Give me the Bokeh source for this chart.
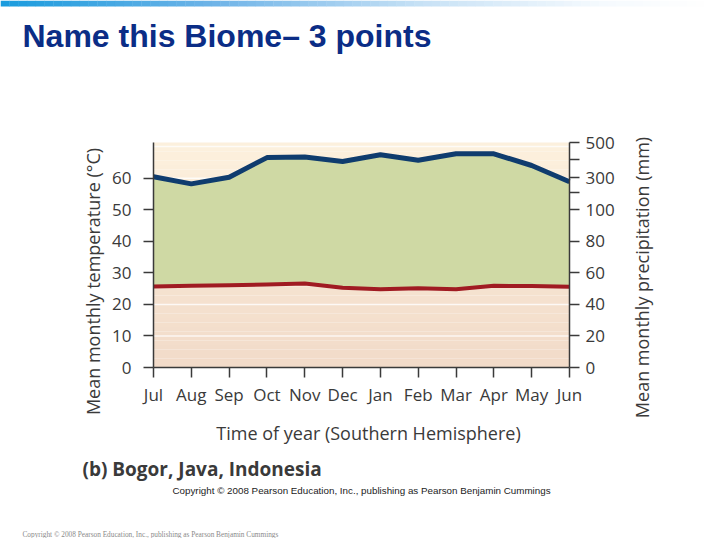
import numpy as np
from bokeh.plotting import figure
from bokeh.models import Range1d, LinearAxis, FixedTicker, Label
from bokeh.embed import file_html
from bokeh.resources import INLINE

# ---------------- data ----------------
months = ["Jul", "Aug", "Sep", "Oct", "Nov", "Dec", "Jan", "Feb", "Mar", "Apr", "May", "Jun"]
temperature_c = [25.7, 25.9, 26.1, 26.3, 26.6, 25.3, 24.8, 25.1, 24.8, 25.9, 25.8, 25.6]
precip_mm = [304, 259, 302, 413, 416, 391, 429, 398, 435, 435, 368, 273]

temp_ticks = [0, 10, 20, 30, 40, 50, 60]
precip_tick_mm = [0, 20, 40, 60, 80, 100, 200, 300, 400, 500]
precip_tick_labels = ["0", "20", "40", "60", "80", "100", "", "300", "", "500"]
# position of each precipitation tick on the temperature scale (axis is broken above 100 mm)
precip_tick_pos = [0, 10, 20, 30, 40, 50, 55.3, 60.2, 65.8, 71.3]

Y_MAX = 71.3
TXT = "#3a3a3a"
FONT = "Open Sans"

# page geometry (pixels) of the chart area, used to lay out the canvas
M = 0
W, H = 704, 538
FX0, FX1, FY0, FY1 = 153, 569, 142, 367
PXU = (FX1 - FX0) / 11.0
PYU = (FY1 - FY0) / Y_MAX


def dx(px):
    return (px - FX0) / PXU


def dy(py):
    return (FY1 - py) / PYU


p = figure(width=W, height=H, output_backend="svg", toolbar_location=None,
           x_range=Range1d(dx(M), dx(M + W)), y_range=Range1d(dy(M + H), dy(M)),
           x_axis_type=None, y_axis_type=None,
           min_border=0, min_border_left=0, min_border_right=0,
           min_border_top=0, min_border_bottom=0)
p.outline_line_color = None
p.grid.visible = False
p.background_fill_color = "white"
p.border_fill_color = "white"

# ---- top gradient bar ----
stops_x = [0.0, 0.3, 0.6, 0.85, 1.0]
stops_c = [(26, 156, 222), (110, 180, 232), (200, 226, 246), (245, 250, 254), (255, 255, 255)]
nb = 80
edges = np.linspace(0, 1, nb + 1)
mids = (edges[:-1] + edges[1:]) / 2
cols = []
for m in mids:
    rgb = [int(np.interp(m, stops_x, [c[i] for c in stops_c])) for i in range(3)]
    cols.append("#%02x%02x%02x" % tuple(rgb))
bx = dx(M) + edges * (dx(M + W) - dx(M))
p.quad(left=bx[:-1], right=bx[1:] + 0.01, bottom=dy(6), top=dy(0), color=cols, line_color=None)

# ---- chart background gradient ----
nbands = 50
be = np.linspace(0, Y_MAX, nbands + 1)
bm = (be[:-1] + be[1:]) / 2 / Y_MAX
bot_c, top_c = (242, 219, 201), (253, 241, 222)
bcols = ["#%02x%02x%02x" % tuple(int(bot_c[i] + (top_c[i] - bot_c[i]) * t) for i in range(3)) for t in bm]
p.quad(left=0, right=11, bottom=be[:-1], top=be[1:] + 0.02, color=bcols, line_color=None)

# white grid lines
grid_vals = [10, 20, 30, 40, 50, 60, 70]
p.segment(x0=0, x1=11, y0=grid_vals, y1=grid_vals, line_color="white", line_width=1.5, line_alpha=0.75)

x = list(range(len(months)))
precip_pos = list(np.interp(precip_mm, precip_tick_mm, precip_tick_pos))

p.varea(x=x, y1=temperature_c, y2=precip_pos, fill_color="#cfd9a4")
p.line(x, precip_pos, line_color="#0f3c6e", line_width=5, line_join="round")
p.line(x, temperature_c, line_color="#a01b22", line_width=4, line_join="round")


def style_axis(ax, standoff):
    ax.axis_line_color = TXT
    ax.axis_line_width = 1.5
    ax.major_tick_line_color = TXT
    ax.major_tick_line_width = 1.5
    ax.major_tick_in = 0
    ax.major_tick_out = 10
    ax.minor_tick_line_color = None
    ax.major_label_text_font = FONT
    ax.major_label_text_font_size = "17px"
    ax.major_label_text_color = TXT
    ax.major_label_standoff = standoff


xax = LinearAxis(fixed_location=0, bounds=(0, 11), ticker=FixedTicker(ticks=x),
                 major_label_overrides={i: m for i, m in enumerate(months)})
style_axis(xax, 5)
p.add_layout(xax, "below")

lax = LinearAxis(fixed_location=0, bounds=(0, Y_MAX), ticker=FixedTicker(ticks=temp_ticks))
style_axis(lax, 12)
p.add_layout(lax, "left")

rax = LinearAxis(fixed_location=11, bounds=(0, Y_MAX), ticker=FixedTicker(ticks=precip_tick_pos),
                 major_label_overrides={v: l for v, l in zip(precip_tick_pos, precip_tick_labels)})
style_axis(rax, 6)
p.add_layout(rax, "right")


def lab(px, py, text, size, color=TXT, font=FONT, style="normal", align="left", angle=0.0):
    p.add_layout(Label(x=dx(px), y=dy(py), text=text, text_font=font, text_font_size=size,
                       text_color=color, text_font_style=style, text_align=align,
                       text_baseline="middle", angle=angle))


lab(22, 35, "Name this Biome\u2013 3 points", "32px", color="#0b2d86",
    font="Liberation Sans", style="bold")
lab(92, 281, "Mean monthly temperature (\u00b0C)", "18px", align="center", angle=np.pi / 2)
lab(641, 277, "Mean monthly precipitation (mm)", "18px", align="center", angle=np.pi / 2)
lab(368, 432, "Time of year (Southern Hemisphere)", "18px", align="center")
lab(82, 468, "(b) Bogor, Java, Indonesia", "19px", style="bold")
lab(172, 490, "Copyright \u00a9 2008 Pearson Education, Inc., publishing as Pearson Benjamin Cummings",
    "9.8px", color="#222222", font="Liberation Sans")
lab(22, 534, "Copyright \u00a9 2008 Pearson Education, Inc., publishing as Pearson Benjamin Cummings",
    "7.3px", color="#8a8a8a", font="Liberation Serif")

open("out.html", "w").write(file_html(p, INLINE))
